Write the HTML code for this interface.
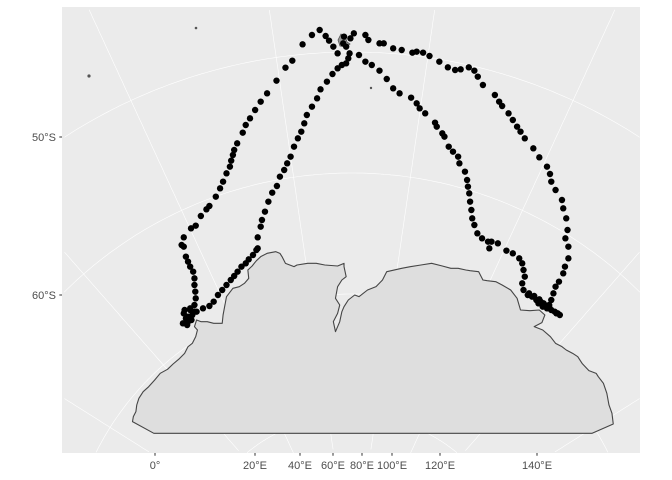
<!DOCTYPE html>
<html><head><meta charset="utf-8"><style>
html,body{margin:0;padding:0;background:#fff;width:672px;height:480px;overflow:hidden;}
svg{display:block;font-family:"Liberation Sans",sans-serif;overflow:hidden;}
</style></head><body>
<svg id="chart" width="672" height="480" viewBox="0 0 672 480">
<defs><clipPath id="pclip"><rect x="62" y="7" width="578" height="446"/></clipPath></defs>
<rect x="0" y="0" width="672" height="480" fill="#fff"/>
<rect x="62" y="7" width="578" height="446" fill="#ebebeb"/>
<g id="grat" clip-path="url(#pclip)"></g>
<g clip-path="url(#pclip)">
<path transform="scale(0.42735,0.33333)" vector-effect="non-scaling-stroke" fill="#dedede" stroke="#454545" stroke-width="1.1" stroke-linejoin="round"
d="M310,1265 L360,1300 L1385,1300 L1435,1272 L1432,1240 L1425,1215 L1420,1180 L1412,1150 L1400,1130 L1395,1120 L1378,1112 L1362,1090 L1352,1070 L1340,1060 L1325,1050 L1315,1040 L1300,1030 L1288,1010 L1270,990 L1250,980 L1268,968 L1275,945 L1262,930 L1240,932 L1218,930 L1210,895 L1195,870 L1175,855 L1160,845 L1140,842 L1130,840 L1120,815 L1100,812 L1090,810 L1072,805 L1055,805 L1035,798 L1010,790 L985,795 L960,800 L940,805 L905,815 L895,840 L880,860 L860,870 L840,890 L830,885 L815,900 L805,920 L800,935 L795,965 L785,995 L780,965 L790,940 L795,915 L785,895 L790,860 L800,840 L810,830 L805,800 L805,790 L790,798 L760,795 L740,790 L720,790 L695,795 L688,800 L668,790 L660,770 L655,760 L645,755 L625,760 L610,770 L600,782 L590,798 L580,810 L582,835 L572,850 L560,860 L545,865 L530,890 L522,945 L520,970 L500,970 L485,965 L470,965 L460,960 L455,980 L462,990 L458,1010 L450,1030 L440,1040 L432,1060 L418,1078 L405,1092 L392,1108 L375,1120 L362,1140 L348,1160 L335,1175 L325,1195 L320,1215 L318,1235 L312,1250 Z"/>
</g>
<g id="islands"></g>
<g id="pts" clip-path="url(#pclip)"></g>
<g id="axes"></g>
</svg>
<script>
const outerX=[440,445,455,458,457,455,455,452,445,440,435,430,425,430,447,458,470,483,490,505,515,522,530,538,541,545,548,555,568,575,585,597,610,625,647,668,684,708,730,748,762,770,780,790,805,820,828,855,862,888,898,920,940,965,975,990,1005,1028,1048,1065,1078,1097,1110,1118,1130,1158,1168,1175,1190,1200,1210,1218,1228,1248,1262,1280,1287,1290,1300,1315,1318,1325,1328,1323,1330,1330,1322,1318,1308,1300,1295,1290,1285,1302,1310];
const outerY=[950,930,915,895,875,855,835,815,800,785,770,740,735,712,685,677,648,628,618,590,565,545,520,500,482,465,450,430,398,375,355,330,305,280,242,203,182,133,105,90,108,122,140,160,110,115,100,105,120,130,130,145,150,158,155,158,168,185,202,210,208,202,212,230,255,285,305,318,340,360,380,395,415,445,472,500,522,545,570,600,625,655,690,715,740,775,800,820,845,860,880,900,925,940,945];
const innerX=[460,475,490,500,510,520,530,540,548,556,565,575,582,592,600,603,603,610,613,620,628,637,648,655,665,672,680,688,697,705,712,718,730,742,750,765,778,790,800,810,815,818,810,803,840,855,870,888,905,920,935,962,975,982,995,1018,1022,1035,1040,1050,1060,1072,1075,1088,1093,1095,1098,1100,1103,1105,1110,1117,1128,1142,1150,1165,1145,1185,1200,1215,1222,1225,1228,1222,1225,1238,1250,1262,1272,1285];
const innerY=[935,925,918,905,885,870,855,840,828,815,800,790,778,765,750,745,712,680,660,635,605,578,558,530,510,490,470,440,415,395,370,345,320,295,268,245,222,205,195,190,175,160,140,130,165,185,195,212,237,265,280,293,310,325,340,368,380,400,410,440,455,470,490,515,540,560,580,605,630,655,675,700,715,725,725,730,745,752,760,775,790,810,830,850,870,880,888,898,910,920];
const clusterX=[430,435,440,428,445,450,432,438,455,448,1255,1265,1275,1280,1290,1298,1305,1270,1260,1285,1245,1235];
const clusterY=[940,955,965,970,925,945,930,975,935,960,900,905,915,925,930,935,940,920,910,915,890,885];
const latTicks=["50°S","60°S"];
const latTickY=[137,295];
const lonTicks=["0°","20°E","40°E","60°E","80°E","100°E","120°E","140°E"];
const lonTickX=[155,255,300,333,362,392,440,537];
const meridianLons=[-20,0,20,40,60,80,100,120,140,160];
const parallelLats=[-40,-50,-60,-70,-80];

const xS=v=>v/2.34;
const yS=v=>v/3;
const NS="http://www.w3.org/2000/svg";
const pole={x:352,y:580};
const latR=lat=>528+(lat+50)*12.1;
const lonAng=lon=>(lon-70)*0.825*Math.PI/180;
const inPanel=(x,y)=>x>=62&&x<=640&&y>=7&&y<=453;

const grat=document.getElementById('grat');
function addPoly(ptsArr,name){
  // split into runs inside the panel
  let runs=[],cur=[];
  ptsArr.forEach(p=>{ if(inPanel(p[0],p[1])) cur.push(p); else { if(cur.length>1) runs.push(cur); cur=[]; } });
  if(cur.length>1) runs.push(cur);
  runs.forEach(r=>{
    const pl=document.createElementNS(NS,'polyline');
    pl.setAttribute('points',r.map(p=>p[0].toFixed(1)+','+p[1].toFixed(1)).join(' '));
    pl.setAttribute('fill','none');pl.setAttribute('stroke','#fff');pl.setAttribute('stroke-width','0.6');
    
    
    grat.appendChild(pl);
  });
}
parallelLats.forEach(lat=>{
  const r=latR(lat), arr=[];
  for(let d=-90; d<=90; d+=0.5){
    const a=d*Math.PI/180;
    arr.push([pole.x+Math.sin(a)*r, pole.y-Math.cos(a)*r]);
  }
  addPoly(arr,'parallel-line');
});
meridianLons.forEach(lon=>{
  const a=lonAng(lon), arr=[];
  for(let t=120; t<=900; t+=4){
    arr.push([pole.x+Math.sin(a)*t, pole.y-Math.cos(a)*t]);
  }
  addPoly(arr,'meridian-line');
});

const isl=document.getElementById('islands');
[[89,76,1.6],[196,28,1.3],[371,88,1.2]].forEach(p=>{
  const c=document.createElementNS(NS,'circle');
  c.setAttribute('cx',p[0]);c.setAttribute('cy',p[1]);c.setAttribute('r',p[2]);
  c.setAttribute('fill','#555');
  
  
  isl.appendChild(c);
});
const kergPath=document.createElementNS(NS,'path');
kergPath.setAttribute('d','M338,40 L341,34 L345,36 L347,42 L350,44 L346,47 L340,46 Z');
kergPath.setAttribute('fill','#999');kergPath.setAttribute('stroke','#555');kergPath.setAttribute('stroke-width','0.8');


isl.appendChild(kergPath);

const pts=document.getElementById('pts');
function drawTrack(xs,ys,name){
  for(let i=0;i<xs.length;i++){
    const c=document.createElementNS(NS,'circle');
    c.setAttribute('cx',xS(xs[i]));c.setAttribute('cy',yS(ys[i]));c.setAttribute('r',3.2);
    c.setAttribute('fill','#000');
    
    
    pts.appendChild(c);
  }
}
drawTrack(outerX,outerY,'outer-track-point');
drawTrack(innerX,innerY,'inner-track-point');
drawTrack(clusterX,clusterY,'cluster-point');

const ax=document.getElementById('axes');
latTicks.forEach((t,i)=>{
  const l=document.createElementNS(NS,'line');
  l.setAttribute('x1',59.3);l.setAttribute('x2',62);l.setAttribute('y1',latTickY[i]);l.setAttribute('y2',latTickY[i]);
  l.setAttribute('stroke','#333');l.setAttribute('stroke-width','1');
  
  
  ax.appendChild(l);
  const tx=document.createElementNS(NS,'text');
  tx.setAttribute('x',56);tx.setAttribute('y',latTickY[i]+4);tx.setAttribute('text-anchor','end');
  tx.setAttribute('font-size','11');tx.setAttribute('fill','#4d4d4d');tx.textContent=t;
  
  
  ax.appendChild(tx);
});
lonTicks.forEach((t,i)=>{
  const l=document.createElementNS(NS,'line');
  l.setAttribute('x1',lonTickX[i]);l.setAttribute('x2',lonTickX[i]);l.setAttribute('y1',453);l.setAttribute('y2',455.7);
  l.setAttribute('stroke','#333');l.setAttribute('stroke-width','1');
  
  
  ax.appendChild(l);
  const tx=document.createElementNS(NS,'text');
  tx.setAttribute('x',lonTickX[i]);tx.setAttribute('y',469);tx.setAttribute('text-anchor','middle');
  tx.setAttribute('font-size','11');tx.setAttribute('fill','#4d4d4d');tx.textContent=t;
  
  
  ax.appendChild(tx);
});
</script>
</body></html>
